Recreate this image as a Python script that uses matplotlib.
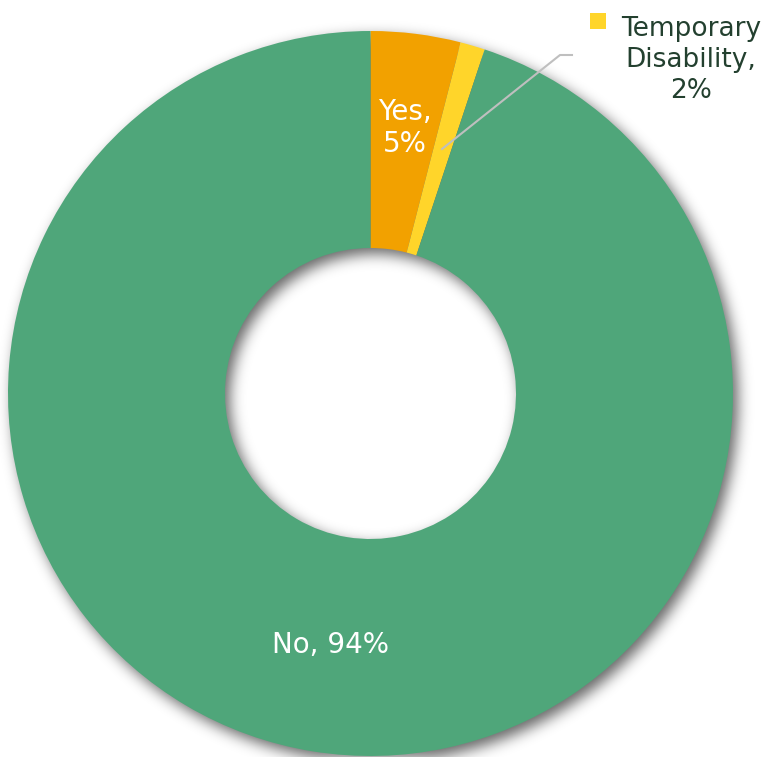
import numpy as np
import matplotlib.pyplot as plt

# Dane wykresu
categories = ["Yes", "Temporary Disability", "No"]
shares = [4.0, 1.1, 94.9]
share_labels = ["5%", "2%", "94%"]
colors = ["#F2A100", "#FFD52A", "#4FA67A"]

W, H = 764, 757
cx, cy = 370.5, H - 393.5
r_out = 362.5
r_in = 145.5

fig = plt.figure(figsize=(W / 100, H / 100), dpi=100)
ax = fig.add_axes([0, 0, 1, 1])

# rozmyty cień pod pierścieniem (przesunięty w prawo i w dół)
yy, xx = np.mgrid[0:H, 0:W] + 0.5
dist = np.hypot(xx - (cx + 5), yy - (cy - 6))
mask = ((dist <= r_out) & (dist >= r_in)).astype(float)
sigma = 7.0
t = np.arange(-21, 22)
kern = np.exp(-t ** 2 / (2 * sigma ** 2))
kern /= kern.sum()
blur = np.apply_along_axis(lambda v: np.convolve(v, kern, mode="same"), 0, mask)
blur = np.apply_along_axis(lambda v: np.convolve(v, kern, mode="same"), 1, blur)
shadow = np.zeros((H, W, 4))
shadow[..., 3] = 0.6 * blur
ax.imshow(shadow, extent=[0, W, 0, H], origin="lower", zorder=1,
          interpolation="bilinear")

wedges, _ = ax.pie(shares, colors=colors, startangle=90, counterclock=False,
                   center=(cx, cy), radius=r_out,
                   wedgeprops=dict(width=r_out - r_in, linewidth=0))
for w in wedges:
    w.set_zorder(2)
ax.set_xlim(0, W)
ax.set_ylim(0, H)
ax.set_aspect("equal")
ax.axis("off")

# etykiety
ax.text(405, H - 128, categories[0] + ",\n" + share_labels[0], color="white",
        fontsize=20, ha="center", va="center", linespacing=1.2, zorder=3)
ax.text(330, H - 645, categories[2] + ", " + share_labels[2], color="white",
        fontsize=20, ha="center", va="center", zorder=3)

temp_lines = categories[1].split(" ")
ax.text(691, H - 60, temp_lines[0] + "\n" + temp_lines[1] + ",\n" + share_labels[1],
        color="#23402F", fontsize=19, ha="center", va="center",
        linespacing=1.25, zorder=3)
ax.plot([598], [H - 21], marker="s", markersize=12, color=colors[1],
        markeredgewidth=0, zorder=3)

# linia odniesienia
ax.plot([442, 560, 572], [H - 149, H - 55, H - 55], color="#BFBFBF", lw=1.5,
        zorder=3)

fig.savefig("out.png", dpi=100)
